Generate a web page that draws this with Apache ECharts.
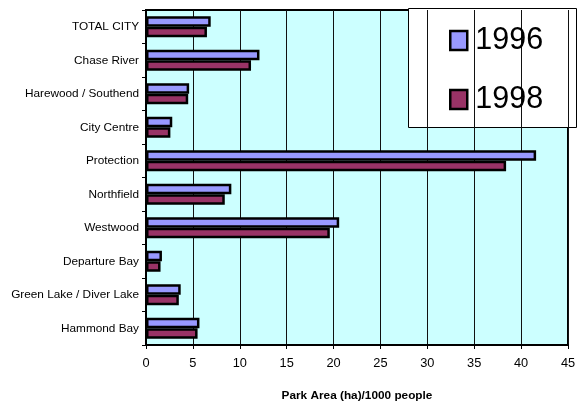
<!DOCTYPE html>
<html>
<head>
<meta charset="utf-8">
<script src="https://cdn.jsdelivr.net/npm/echarts@6/dist/echarts.min.js"></script>
<style>
  html, body { margin: 0; padding: 0; background: #ffffff; }
  #chart { width: 584px; height: 407px; }
</style>
</head>
<body>
<div id="chart"></div>
<script>
// Neighbourhood names, listed top to bottom
const neighbourhoods = [
  'TOTAL CITY', 'Chase River', 'Harewood / Southend', 'City Centre', 'Protection',
  'Northfield', 'Westwood', 'Departure Bay', 'Green Lake / Diver Lake', 'Hammond Bay'
];
// Park area (ha) per 1000 people
const park1996 = [6.9, 12.1, 4.6, 2.8, 41.6, 9.1, 20.6, 1.7, 3.7, 5.7];
const park1998 = [6.5, 11.2, 4.5, 2.6, 38.4, 8.4, 19.6, 1.55, 3.5, 5.5];
const xTicks = [0, 5, 10, 15, 20, 25, 30, 35, 40, 45];

const chart = echarts.init(document.getElementById('chart'));
const font = '"Liberation Sans", Arial, sans-serif';

const barStyle = (fill) => ({
  color: fill, borderColor: '#000', borderWidth: 2.5
});

chart.setOption({
  animation: false,
  backgroundColor: '#ffffff',
  grid: {
    left: 146, right: 16, top: 10, bottom: 54,
    show: true, backgroundColor: '#CCFFFF', borderColor: '#000', borderWidth: 2
  },
  xAxis: {
    type: 'value',
    min: xTicks[0], max: xTicks[xTicks.length - 1], interval: 5,
    name: 'Park Area (ha)/1000 people',
    nameLocation: 'middle', nameGap: 45,
    nameTextStyle: { fontFamily: font, fontSize: 11.8, fontWeight: 'bold', color: '#000' },
    axisLine: { show: true, lineStyle: { color: '#000', width: 2 } },
    axisTick: { show: true, length: 4, lineStyle: { color: '#000' } },
    axisLabel: { fontFamily: font, fontSize: 12.8, color: '#000', margin: 12 },
    splitLine: { show: true, lineStyle: { color: '#111', width: 1 } }
  },
  yAxis: {
    type: 'category',
    data: neighbourhoods,
    inverse: true,
    axisLine: { show: true, lineStyle: { color: '#000', width: 2 } },
    axisTick: { show: true, length: 4, inside: false, lineStyle: { color: '#000' } },
    axisLabel: { fontFamily: font, fontSize: 11.8, color: '#000', margin: 7 },
    splitLine: { show: false }
  },
  legend: {
    orient: 'vertical',
    left: 449, top: 25, padding: 0,
    itemWidth: 17, itemHeight: 19, itemGap: 28,
    icon: 'rect',
    itemStyle: { borderColor: '#000', borderWidth: 2.5 },
    textStyle: { fontFamily: font, fontSize: 30.5, lineHeight: 30, color: '#000', padding: [0, 0, 0, 3] },
    data: ['1996', '1998']
  },
  graphic: [{
    type: 'rect', z: 0, zlevel: 0,
    shape: { x: 408.5, y: 8.5, width: 168, height: 119 },
    style: { fill: '#ffffff', stroke: '#000', lineWidth: 1 }
  }],
  series: [
    {
      name: '1996', type: 'bar', data: park1996,
      barWidth: 10.5, barGap: '0%',
      itemStyle: barStyle('#9999FF')
    },
    {
      name: '1998', type: 'bar', data: park1998,
      barWidth: 10.5,
      itemStyle: barStyle('#993366')
    }
  ]
});
</script>
</body>
</html>
